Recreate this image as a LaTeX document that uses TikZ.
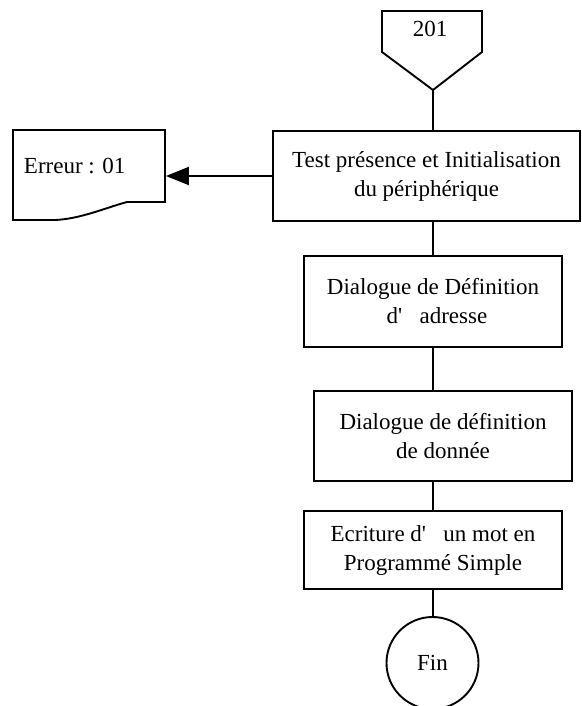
\documentclass[tikz,border=0pt]{standalone}
\usepackage{fontspec}
\setmainfont{Liberation Serif}
\usetikzlibrary{arrows.meta,calc}
\begin{document}
\begin{tikzpicture}[x=1pt,y=-1pt, line width=1.9pt,
  txt/.style={font=\fontsize{23}{29}\selectfont},
  box/.style={draw, rectangle, align=center, inner sep=0pt, txt},
  lbl/.style={inner sep=0pt, txt},
  conn/.style={draw, line width=1.9pt}]
\useasboundingbox (0,0) rectangle (581,706);
\clip (0,0) rectangle (581,706);

% start connector (pentagon)
\draw (382,11) -- (482,11) -- (482,52) -- (433,90) -- (382,52) -- cycle;
\node[lbl, anchor=base] (s201) at (430,37) {201};
\coordinate (tip) at (433,90);

% boxes
\node[box, minimum width=307pt, minimum height=90pt] (test) at (426.5,176)
  {Test présence et Initialisation\\du périphérique};
\node[box, minimum width=258pt, minimum height=91pt] (def) at (433,301.5)
  {Dialogue de Définition\\\hspace*{8pt}d\textquotesingle~~~adresse};
\node[box, minimum width=258pt, minimum height=90pt] (don) at (443,436)
  {Dialogue de définition\\de donnée};
\node[box, minimum width=258pt, minimum height=78pt] (ecr) at (433,550)
  {Ecriture d\textquotesingle~~~un mot en\\Programmé Simple};
\node[draw, circle, minimum size=92pt, inner sep=0pt, txt] (fin) at (432.5,663) {Fin};

% error document
\node[minimum width=152pt, minimum height=90pt, inner sep=0pt] (err) at (89,175) {};
\draw (13,130) -- (165,130) -- (165,202) -- (127,202)
  .. controls (105,208) and (80,219) .. (55,220) -- (13,220) -- cycle;
\node[lbl, anchor=base west] (errt) at (23,173) {Erreur : 01};

% connectors
\draw[conn] (tip) -- (tip |- test.north);
\draw[conn] (test.south -| tip) -- (def.north -| tip);
\draw[conn] (def.south -| tip) -- (don.north -| tip);
\draw[conn] (don.south -| tip) -- (ecr.north -| tip);
\draw[conn] (ecr.south -| tip) -- (fin.north -| tip);
\draw[conn, -{Triangle[length=23pt,width=18pt]}] (test.west) -- (test.west -| err.east);
\end{tikzpicture}
\end{document}
